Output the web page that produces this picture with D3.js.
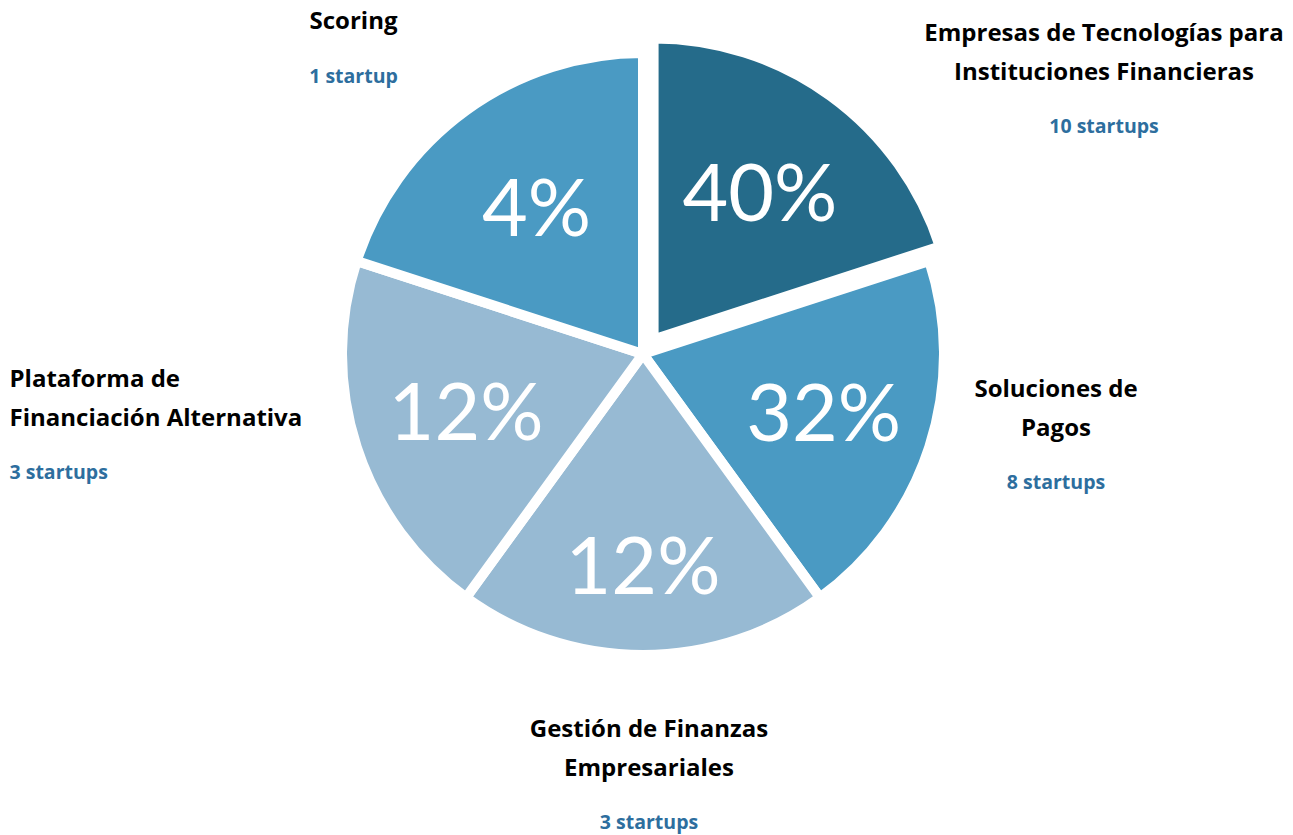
<!DOCTYPE html>
<html lang="es">
<head>
<meta charset="utf-8">
<title>Startups por segmento</title>
<script src="https://cdn.jsdelivr.net/npm/d3@7/dist/d3.min.js"></script>
<style>
  html, body { margin: 0; padding: 0; background: #ffffff; }
  svg { display: block; }
</style>
</head>
<body>
<svg id="chart" width="1293" height="835"></svg>
<script>
// Segment names (split into the lines they are set on) and startup counts
const categories = [
  "Empresas de Tecnologías para Instituciones Financieras",
  "Soluciones de Pagos",
  "Gestión de Finanzas Empresariales",
  "Plataforma de Financiación Alternativa",
  "Scoring"
];
const nameLines = [
  ["Empresas de Tecnologías para", "Instituciones Financieras"],
  ["Soluciones de", "Pagos"],
  ["Gestión de Finanzas", "Empresariales"],
  ["Plataforma de", "Financiación Alternativa"],
  ["Scoring"]
];
const startups = [10, 8, 3, 3, 1];

// ---- layout & style ----
const W = 1293, H = 835;
const cx = 643, cy = 354;
const radius = 301;          // outer edge incl. half of the white border
const borderWidth = 10;
const explode = [18, 0, 0, 0, 0];
const sliceColors = ["#256b8a", "#4a9ac3", "#97bad3", "#97bad3", "#4a9ac3"];
const pctRadius = [181, 190, 212, 186, 181];
const nameAnchors = [
  { x: 1104, y: 41,  anchor: "middle" },
  { x: 1056, y: 397, anchor: "middle" },
  { x: 649,  y: 737, anchor: "middle" },
  { x: 9.5,  y: 387, anchor: "start"  },
  { x: 353.5, y: 29, anchor: "middle" }
];
const lineStep = 38.5, countGap = 53.5;
const pctFont = "Lato, 'Open Sans', sans-serif";
const labelFont = "'Open Sans', Lato, sans-serif";

const total = d3.sum(startups);
const rows = categories.map((c, i) => ({
  name: c, lines: nameLines[i], count: startups[i],
  share: Math.round(startups[i] / total * 100), i
}));

const svg = d3.select("#chart");
const g = svg.append("g").attr("transform", `translate(${cx},${cy})`);

// Each segment is drawn as an equal wedge of the wheel; its share is printed inside
const pie = d3.pie().sort(null).value(() => 1).startAngle(0).endAngle(2 * Math.PI);
const arc = d3.arc().innerRadius(0).outerRadius(radius);
const arcs = pie(rows);

const offset = d => {
  const a = (d.startAngle + d.endAngle) / 2;
  const e = explode[d.data.i];
  return [Math.sin(a) * e, -Math.cos(a) * e];
};

const slice = g.selectAll("g.slice").data(arcs).join("g")
  .attr("class", "slice")
  .attr("transform", d => `translate(${offset(d)})`);

slice.append("path")
  .attr("d", arc)
  .attr("fill", d => sliceColors[d.data.i])
  .attr("stroke", "#ffffff")
  .attr("stroke-width", borderWidth)
  .attr("stroke-linejoin", "miter");

slice.append("text")
  .attr("transform", d => {
    const a = (d.startAngle + d.endAngle) / 2;
    const r = pctRadius[d.data.i];
    return `translate(${Math.sin(a) * r},${-Math.cos(a) * r})`;
  })
  .attr("text-anchor", "middle")
  .attr("dy", "0.36em")
  .attr("fill", "#ffffff")
  .style("font-family", pctFont)
  .style("font-size", "79px")
  .text(d => d.data.share + "%");

// Segment names and startup counts around the wheel
const labels = svg.selectAll("g.label").data(rows).join("g")
  .attr("class", "label")
  .attr("transform", d => `translate(${nameAnchors[d.i].x},${nameAnchors[d.i].y})`);

labels.each(function (d) {
  const sel = d3.select(this);
  const anchor = nameAnchors[d.i].anchor;
  d.lines.forEach((ln, k) => {
    sel.append("text")
      .attr("y", k * lineStep)
      .attr("text-anchor", anchor)
      .attr("fill", "#000000")
      .style("font-family", labelFont)
      .style("font-weight", 700)
      .style("font-size", "24px")
      .text(ln);
  });
  sel.append("text")
    .attr("y", (d.lines.length - 1) * lineStep + countGap)
    .attr("text-anchor", anchor)
    .attr("fill", "#2d6e9e")
    .style("font-family", labelFont)
    .style("font-weight", 700)
    .style("font-size", "19.5px")
    .text(d.count + (d.count === 1 ? " startup" : " startups"));
});
</script>
</body>
</html>
